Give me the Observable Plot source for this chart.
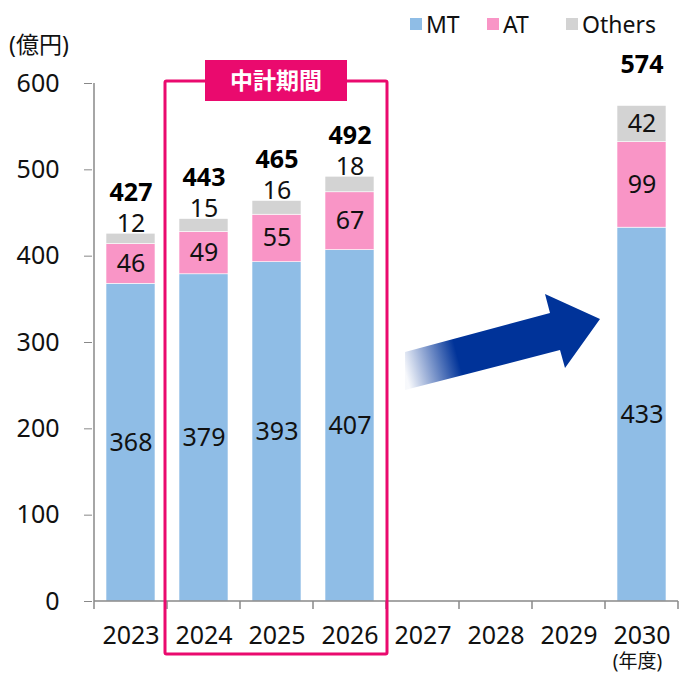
<!DOCTYPE html>
<html>
<head>
<meta charset="utf-8">
<script src="https://cdn.jsdelivr.net/npm/d3@7"></script>
<script src="https://cdn.jsdelivr.net/npm/@observablehq/plot@0.6"></script>
<style>
  html, body { margin: 0; padding: 0; background: #fff; }
  #chart svg { display: block; }
</style>
</head>
<body>
<div id="chart"></div>
<script>
const years = ["2023", "2024", "2025", "2026", "2027", "2028", "2029", "2030"];
const dataYears = ["2023", "2024", "2025", "2026", "2030"];
const seriesNames = ["MT", "AT", "Others"];
const seriesColors = ["#8fbde6", "#f995c6", "#d3d3d3"];
const mtValues = [368, 379, 393, 407, 433];
const atValues = [46, 49, 55, 67, 99];
const othersValues = [12, 15, 16, 18, 42];
const totals = [427, 443, 465, 492, 574];
const yTicks = [0, 100, 200, 300, 400, 500, 600];
const periodYears = ["2024", "2025", "2026"];
const periodLabel = "中計期間";
const unitLabel = "(億円)";
const yearUnitLabel = "(年度)";

const pink = "#ea0a6e";
const axisColor = "#888";
const font = "'Noto Sans', 'Noto Sans CJK JP', sans-serif";

const seriesValues = [mtValues, atValues, othersValues];
const rows = [];
dataYears.forEach((yr, i) => {
  seriesNames.forEach((s, j) => rows.push({ year: yr, series: s, value: seriesValues[j][i] }));
});
const totalRows = dataYears.map((yr, i) => ({ year: yr, total: totals[i], top: mtValues[i] + atValues[i] + othersValues[i] }));

// small "Others" values are labelled above the bar, the rest inside
const isAbove = d => d.series === "Others" && d.value < 30;
const stackBase = { x: "year", y: "value", z: "series", order: seriesNames };

const plot = Plot.plot({
  width: 679,
  height: 674,
  marginTop: 83,
  marginBottom: 73,
  marginLeft: 92,
  marginRight: 0,
  style: { fontFamily: font, fontSize: "24px", background: "#fff", color: "#000" },
  x: { domain: years, paddingInner: 0.33, paddingOuter: 0.165, label: null },
  y: { domain: [0, 600], label: null },
  color: { domain: seriesNames, range: seriesColors },
  marks: [
    Plot.barY(rows, { ...stackBase, fill: "series", stroke: "#fff", strokeWidth: 0.6 }),
    Plot.text(rows, Plot.stackY({ ...stackBase, text: d => isAbove(d) ? null : String(d.value), fill: "#111", fontSize: 25 })),
    Plot.text(rows, Plot.stackY2({ ...stackBase, text: d => isAbove(d) ? String(d.value) : null, fill: "#111", fontSize: 25, dy: -10 })),
    Plot.text(totalRows, { x: "year", y: "top", text: "total", dy: -41, fontSize: 25, fontWeight: "bold", fill: "#000" }),
    Plot.axisY({ ticks: yTicks, tickSize: 8, tickPadding: 25, fontSize: 25, stroke: axisColor, fill: "#111", label: null }),
    Plot.axisX({ tickSize: 0, tickPadding: 25, fontSize: 25, fill: "#111", label: null })
  ]
});

document.getElementById("chart").appendChild(plot);

const svg = d3.select(plot);
const xs = plot.scale("x");
const ys = plot.scale("y");
const step = xs.step;
const bw = xs.bandwidth;
const gap = (step - bw) / 2;
const y0 = ys.apply(0);
const yTop = ys.apply(600);
const left = xs.apply(years[0]) - gap;
const right = xs.apply(years[years.length - 1]) + bw + gap;

const g = svg.append("g").attr("font-family", font);

// axis lines
g.append("line").attr("x1", left).attr("x2", left).attr("y1", yTop).attr("y2", y0)
  .attr("stroke", axisColor).attr("stroke-width", 1.5);
g.append("line").attr("x1", left).attr("x2", right).attr("y1", y0).attr("y2", y0)
  .attr("stroke", axisColor).attr("stroke-width", 1.5);
years.concat(["end"]).forEach((yr, i) => {
  const bx = left + i * step;
  g.append("line").attr("x1", bx).attr("x2", bx).attr("y1", y0).attr("y2", y0 + 8)
    .attr("stroke", axisColor).attr("stroke-width", 1.5);
});

// unit labels
g.append("text").attr("x", 9).attr("y", 45).attr("dy", "0.35em").attr("text-anchor", "start")
  .attr("font-size", 23).attr("fill", "#111").text(unitLabel);
g.append("text").attr("x", xs.apply("2030") + bw / 2 - 4).attr("y", 661).attr("dy", "0.35em")
  .attr("text-anchor", "middle").attr("font-size", 19).attr("fill", "#111").text(yearUnitLabel);

// legend
const legendX = [410, 487, 566];
seriesNames.forEach((s, i) => {
  g.append("rect").attr("x", legendX[i]).attr("y", 18).attr("width", 12).attr("height", 12).attr("fill", seriesColors[i]);
  g.append("text").attr("x", legendX[i] + 16).attr("y", 25).attr("dy", "0.35em").attr("text-anchor", "start")
    .attr("font-size", 23).attr("fill", "#111").text(s);
});

// period box
const bxL = xs.apply(periodYears[0]) - gap - 2;
const bxR = xs.apply(periodYears[periodYears.length - 1]) + bw + gap + 1;
const bxT = 81, bxB = 654;
g.append("rect").attr("x", bxL).attr("y", bxT).attr("width", bxR - bxL).attr("height", bxB - bxT)
  .attr("fill", "none").attr("stroke", pink).attr("stroke-width", 3).attr("rx", 1.5);
const cx = (bxL + bxR) / 2;
g.append("rect").attr("x", cx - 71).attr("y", 60).attr("width", 142).attr("height", 41).attr("fill", pink);
g.append("text").attr("x", cx).attr("y", 81).attr("dy", "0.36em").attr("text-anchor", "middle")
  .attr("font-family", "'Noto Sans CJK JP'").attr("font-weight", "bold").attr("font-size", 23)
  .attr("fill", "#fff").text(periodLabel);

// arrow
const defs = svg.append("defs");
const grad = defs.append("linearGradient").attr("id", "arrowGrad")
  .attr("gradientUnits", "userSpaceOnUse")
  .attr("x1", 405).attr("y1", 371).attr("x2", 600).attr("y2", 319);
grad.append("stop").attr("offset", 0).attr("stop-color", "#003399").attr("stop-opacity", 0.03);
grad.append("stop").attr("offset", 0.27).attr("stop-color", "#003399").attr("stop-opacity", 1);
grad.append("stop").attr("offset", 1).attr("stop-color", "#003399").attr("stop-opacity", 1);
const arrowPts = [[405, 352], [550, 313], [545, 294], [600, 319], [565, 368], [560, 350], [405, 390]];
g.append("path").attr("d", "M" + arrowPts.map(p => p.join(",")).join("L") + "Z").attr("fill", "url(#arrowGrad)");
</script>
</body>
</html>
